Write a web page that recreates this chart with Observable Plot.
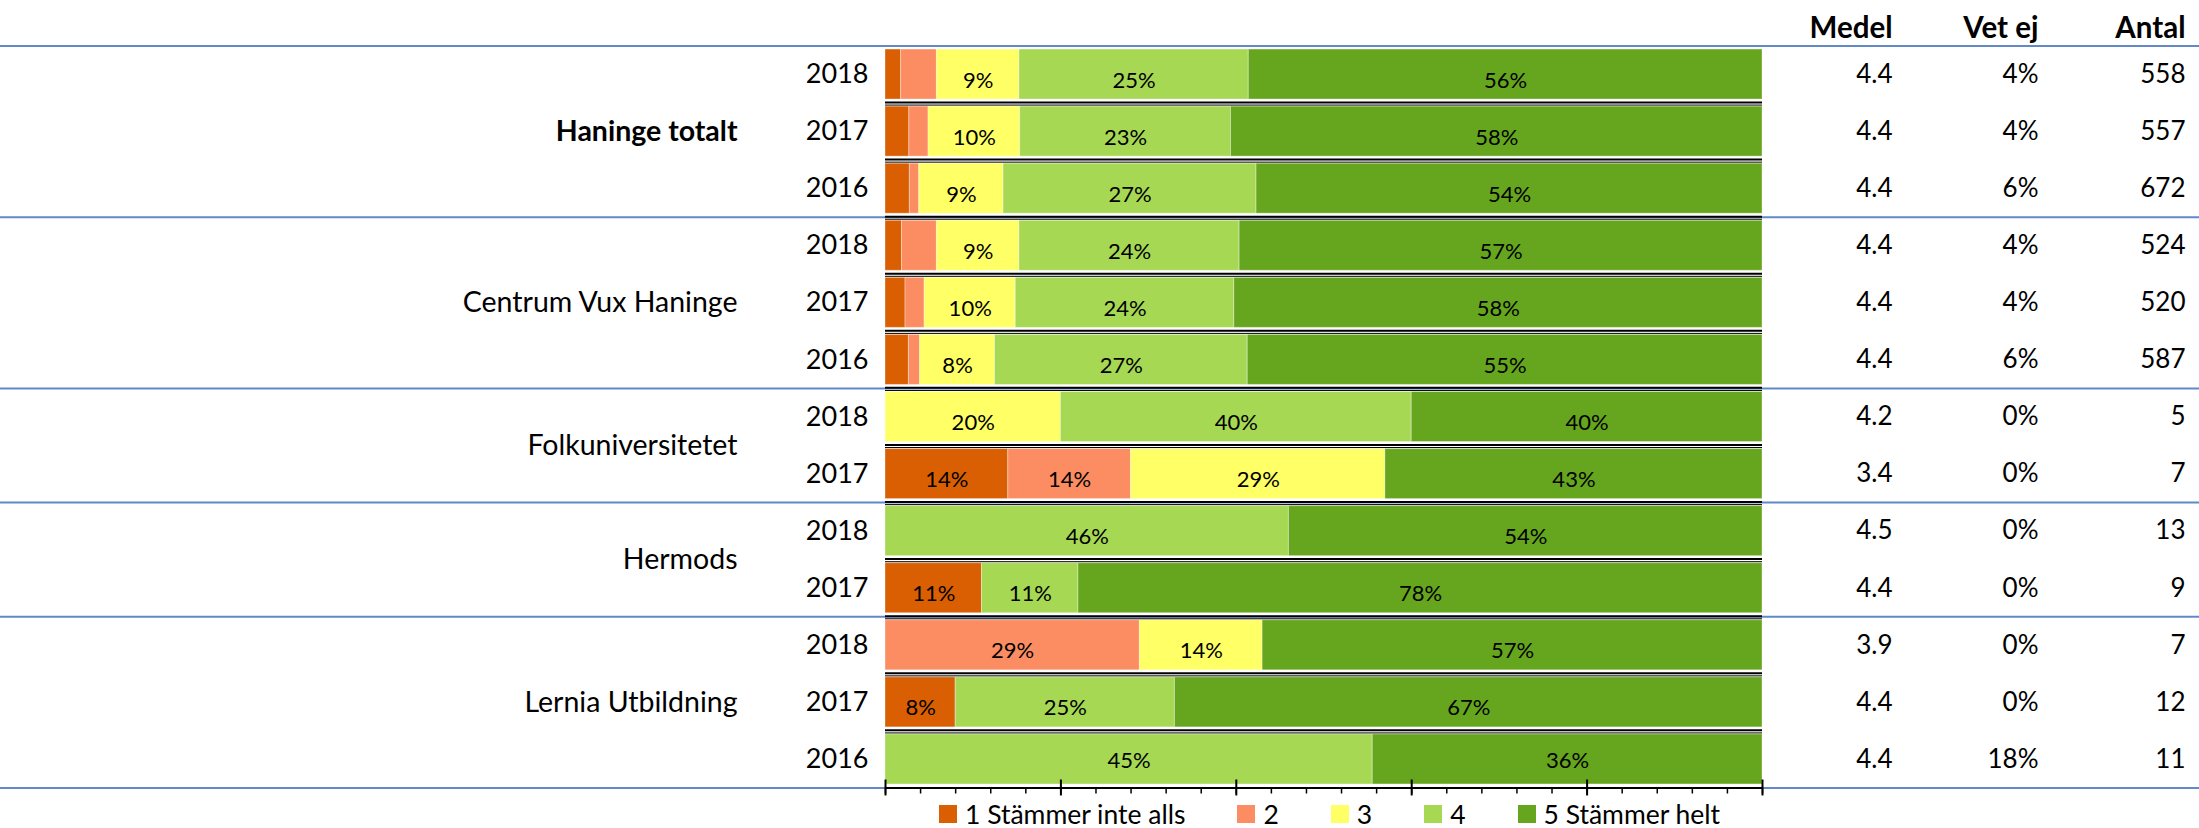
<!DOCTYPE html>
<html>
<head>
<meta charset="utf-8">
<script src="https://cdn.jsdelivr.net/npm/d3@7"></script>
<script src="https://cdn.jsdelivr.net/npm/@observablehq/plot@0.6"></script>
<style>
  html, body { margin: 0; padding: 0; background: white; }
  body { font-family: Lato, "Noto Sans", sans-serif; width: 2199px; height: 828px; overflow: hidden; }
  #legend { display: flex; align-items: center; height: 28px; margin-left: 939px; font-size: 26.5px; color: #000; }
  #legend .item { display: flex; align-items: center; margin-right: 52px; }
  #legend .sw { width: 18px; height: 18px; margin-right: 8px; }
</style>
</head>
<body>
<div id="chart"></div>
<div id="legend"></div>
<script>
// ---- data ----
const groups = ["Haninge totalt", "Centrum Vux Haninge", "Folkuniversitetet", "Hermods", "Lernia Utbildning"];
const rowGroup = [0, 0, 0, 1, 1, 1, 2, 2, 3, 3, 4, 4, 4];
const years = ["2018", "2017", "2016", "2018", "2017", "2016", "2018", "2017", "2018", "2017", "2018", "2017", "2016"];
const levels = ["1 Stämmer inte alls", "2", "3", "4", "5 Stämmer helt"];
const colors = ["#d95f02", "#fc8d62", "#ffff66", "#a6d854", "#66a61e"];
const level1 = [1.7, 2.6, 2.6, 1.8, 2.2, 2.5, 0, 14, 0, 11, 0, 8, 0];
const level2 = [3.9, 2.1, 1.0, 3.8, 2.1, 1.2, 0, 14, 0, 0, 29, 0, 0];
const level3 = [9, 10, 9, 9, 10, 8, 20, 29, 0, 0, 14, 0, 0];
const level4 = [25, 23, 27, 24, 24, 27, 40, 0, 46, 11, 0, 25, 45];
const level5 = [56, 58, 54, 57, 58, 55, 40, 43, 54, 78, 57, 67, 36];
const medel = ["4.4", "4.4", "4.4", "4.4", "4.4", "4.4", "4.2", "3.4", "4.5", "4.4", "3.9", "4.4", "4.4"];
const vetEj = ["4%", "4%", "6%", "4%", "4%", "6%", "0%", "0%", "0%", "0%", "0%", "0%", "18%"];
const antal = ["558", "557", "672", "524", "520", "587", "5", "7", "13", "9", "7", "12", "11"];
const columnHeaders = ["Medel", "Vet ej", "Antal"];

// ---- layout ----
const W = 2199, H = 800;
const mL = 885, mR = 437, mT = 45.5, mB = 12.5;
const plotW = W - mL - mR;
const xLo = -mL / plotW, xHi = 1 + mR / plotW;
const barHalf = 0.438;
const tickHalf = 0.14;

// ---- derived tables ----
const levelArrays = [level1, level2, level3, level4, level5];
const rows = years.map((year, i) => ({
  i, year, group: groups[rowGroup[i]],
  medel: medel[i], vetEj: vetEj[i], antal: antal[i]
}));
const lastRow = rows.length - 1;
const segments = [];
rows.forEach(r => {
  const vals = levelArrays.map(a => a[r.i]);
  const total = d3.sum(vals);
  let acc = 0;
  vals.forEach((v, k) => {
    const x1 = acc / total; acc += v; const x2 = acc / total;
    if (v > 0) segments.push({i: r.i, level: levels[k], value: v, x1, x2});
  });
});
const labelled = segments.filter(d => d.value >= 5);
const groupLabels = groups.map((g, k) => ({
  group: g, bold: k === 0,
  y: d3.mean(rows.filter(r => rowGroup[r.i] === k), r => r.i)
}));
const groupBounds = [-0.5];
rows.forEach((r, i) => { if (i > 0 && rowGroup[i] !== rowGroup[i - 1]) groupBounds.push(i - 0.5); });
groupBounds.push(rows.length - 0.5);
const innerBounds = d3.range(rows.length - 1).map(i => i + 0.5);
const majorTicks = d3.range(6).map(k => k / 5);
const minorTicks = d3.range(26).map(k => k / 25);

const cols = [
  {name: columnHeaders[0], key: "medel", dx: 130},
  {name: columnHeaders[1], key: "vetEj", dx: 276},
  {name: columnHeaders[2], key: "antal", dx: 423}
];

const marks = [
  // blue group separators (full width)
  Plot.ruleY(groupBounds, {y: d => d, x1: xLo, x2: xHi, stroke: "#6189c8", strokeWidth: 2}),
  // bars
  Plot.rectX(segments, {
    x1: "x1", x2: "x2", y1: d => d.i - barHalf, y2: d => d.i + barHalf,
    fill: "level", stroke: "white", strokeOpacity: 0.35, strokeWidth: 1
  }),
  // black separators between bars
  Plot.ruleY(innerBounds, {y: d => d, x1: 0, x2: 1, stroke: "black", strokeWidth: 2, dy: -0.6}),
  Plot.ruleY(innerBounds, {y: d => d, x1: 0, x2: 1, stroke: "black", strokeWidth: 1, dy: 2}),
  // axis line and ticks
  Plot.ruleY([rows.length - 0.5], {x1: 0, x2: 1, stroke: "black", strokeWidth: 2}),
  Plot.axisX({ticks: minorTicks, tickSize: 6, tickFormat: () => "", stroke: "black", strokeWidth: 1.5}),
  Plot.ruleX(majorTicks, {x: d => d, y1: rows.length - 0.5 - tickHalf, y2: rows.length - 0.5 + tickHalf, stroke: "black", strokeWidth: 2}),
  // percentage labels
  Plot.text(labelled.filter(d => d.i !== lastRow), {
    x: d => (d.x1 + d.x2) / 2, y: "i", text: d => d.value + "%",
    fontSize: 22, fill: "black", dy: 6
  }),
  Plot.text(labelled.filter(d => d.i === lastRow), {
    x: d => (d.x1 + d.x2) / 2, y: "i", text: d => d.value + "%",
    fontSize: 22, fill: "black", dy: 1
  }),
  // year labels
  Plot.text(rows, {x: 0, y: "i", text: "year", textAnchor: "end", dx: -17, fontSize: 27, fill: "black"}),
  // group labels
  Plot.text(groupLabels.filter(d => !d.bold), {x: 0, y: "y", text: "group", textAnchor: "end", dx: -148, fontSize: 28.5, fill: "black"}),
  Plot.text(groupLabels.filter(d => d.bold), {x: 0, y: "y", text: "group", textAnchor: "end", dx: -148, fontSize: 28.5, fontWeight: "bold", fill: "black"})
];
cols.forEach(c => {
  marks.push(Plot.text(rows, {x: 1, y: "i", text: c.key, textAnchor: "end", dx: c.dx, fontSize: 26, fill: "black"}));
  marks.push(Plot.text([c.name], {x: 1, frameAnchor: "top", text: d => d, textAnchor: "end", lineAnchor: "bottom", dx: c.dx, dy: -8, fontSize: 29.5, fontWeight: "bold", fill: "black"}));
});

const chart = Plot.plot({
  width: W, height: H,
  marginLeft: mL, marginRight: mR, marginTop: mT, marginBottom: mB,
  style: {fontFamily: "Lato, 'Noto Sans', sans-serif", background: "white", overflow: "visible", color: "black"},
  x: {domain: [0, 1], axis: null},
  y: {domain: [-0.5, rows.length - 0.5], reverse: true, axis: null},
  color: {domain: levels, range: colors},
  marks
});
document.getElementById("chart").appendChild(chart);

// legend
const legend = d3.select("#legend");
levels.forEach((l, k) => {
  const item = legend.append("div").attr("class", "item");
  item.append("div").attr("class", "sw").style("background", colors[k]);
  item.append("span").text(l);
});
</script>
</body>
</html>
